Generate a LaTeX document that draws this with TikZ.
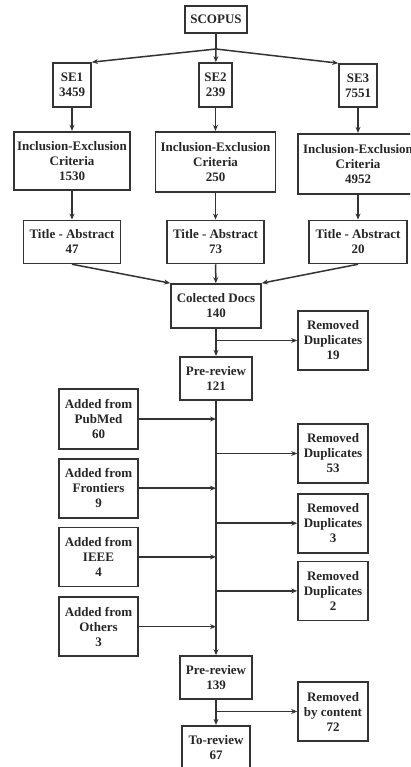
\documentclass[tikz,border=0pt]{standalone}
\usepackage{fontspec}
\setmainfont{Liberation Serif}
\usepackage{tikz}
\usetikzlibrary
  {
    arrows.meta,              % arrow heads
    positioning,              % place nodes relative to other nodes
  }

\begin{document}
\begin{tikzpicture}
    [
      x=1pt,
      y=-1pt,
      box/.style=
        {
          rectangle,
          draw=black!80,
          line width=1.7pt,
          text=black!85,
          font=\fontsize{13}{15}\selectfont\bfseries,
          align=center,
          inner sep=0pt,
        },
      flow/.style=
        {
          draw=black!80,
          line width=1.5pt,
          -{Stealth[length=6pt,width=5pt]},
        },
    ]
    \clip (0,0) rectangle (410,767);

    % search engines
    \node[box, minimum width=62pt, minimum height=27pt] (scopus) at (216,19.5) {SCOPUS};
    \coordinate (split) at (216,49);
    \node[box, minimum width=38pt, minimum height=44pt] (se1) at (72,85)    {SE1\\3459};
    \node[box, minimum width=33pt, minimum height=44pt] (se2) at (215.5,85) {SE2\\239};
    \node[box, minimum width=38pt, minimum height=43pt] (se3) at (358,85.5) {SE3\\7551};

    \node[box, minimum width=116pt, minimum height=58pt] (ie1) [below=23pt of se1]
      {Inclusion-Exclusion\\Criteria\\1530};
    \node[box, minimum width=120pt, minimum height=60pt] (ie2) [below=23pt of se2]
      {Inclusion-Exclusion\\Criteria\\250};
    \node[box, minimum width=120pt, minimum height=60pt] (ie3) [below=25pt of se3]
      {Inclusion-Exclusion\\Criteria\\4952};

    \node[box, minimum width=97pt, minimum height=43pt] (ta1) [below=29pt of ie1] {Title - Abstract\\47};
    \node[box, minimum width=97pt, minimum height=43pt] (ta2) [below=27pt of ie2] {Title - Abstract\\73};
    \node[box, minimum width=98pt, minimum height=43pt] (ta3) [below=25pt of ie3] {Title - Abstract\\20};

    % main column
    \node[box, minimum width=90pt, minimum height=44pt] (collected) at (216,306) {Colected Docs\\140};
    \node[box, minimum width=72pt, minimum height=43pt] (prereview) [below=27pt of collected] {Pre-review\\121};
    \node[box, minimum width=72pt, minimum height=43pt] (prereview2) at (216,677.5) {Pre-review\\139};
    \node[box, minimum width=68pt, minimum height=43pt] (toreview) [below=25pt of prereview2] {To-review\\67};

    % added sources
    \node[box, minimum width=79pt, minimum height=60pt] (pubmed) at (98.5,419) {Added from\\PubMed\\60};
    \node[box, minimum width=79pt, minimum height=59pt] (frontiers) [below=8pt of pubmed] {Added from\\Frontiers\\9};
    \node[box, minimum width=79pt, minimum height=59pt] (ieee) [below=8pt of frontiers] {Added from\\IEEE\\4};
    \node[box, minimum width=79pt, minimum height=59pt] (others) [below=9pt of ieee] {Added from\\Others\\3};

    % removed documents
    \node[box, minimum width=70pt, minimum height=59pt] (dup1) at (333,340.5) {Removed\\Duplicates\\19};
    \node[box, minimum width=70pt, minimum height=59pt] (dup2) at (333,453.5) {Removed\\Duplicates\\53};
    \node[box, minimum width=70pt, minimum height=59pt] (dup3) [below=9pt of dup2] {Removed\\Duplicates\\3};
    \node[box, minimum width=70pt, minimum height=59pt] (dup4) [below=7pt of dup3] {Removed\\Duplicates\\2};
    \node[box, minimum width=70pt, minimum height=59pt] (content) at (333,711.5) {Removed\\by content\\72};

    \draw[flow, -] (scopus) -- (split);
    \draw[flow] (split) -- (se1.north east);
    \draw[flow] (split) -- (se2);
    \draw[flow] (split) -- (se3.north west);

    \draw[flow] (se1) -- (ie1);
    \draw[flow] (se2) -- (ie2);
    \draw[flow] (se3) -- (ie3);
    \draw[flow] (ie1) -- (ie1 |- ta1.north);
    \draw[flow] (ie2) -- (ie2 |- ta2.north);
    \draw[flow] (ie3) -- (ie3 |- ta3.north);

    \draw[flow] (ta1.south) -- (collected.north west);
    \draw[flow] (ta2) -- (collected);
    \draw[flow] (ta3.south) -- (collected.north east);

    \draw[flow] (collected) -- (prereview);
    \draw[flow] (prereview) -- (prereview2);
    \draw[flow] (prereview2) -- (toreview);

    \foreach \src in {pubmed, frontiers, ieee, others}
      \draw[flow] (\src.east) -- (\src.east -| prereview.south);
    \foreach \dst in {dup1, dup2, dup3, dup4, content}
      \draw[flow] (\dst.west -| prereview.south) -- (\dst.west);
  \end{tikzpicture}
\end{document}
